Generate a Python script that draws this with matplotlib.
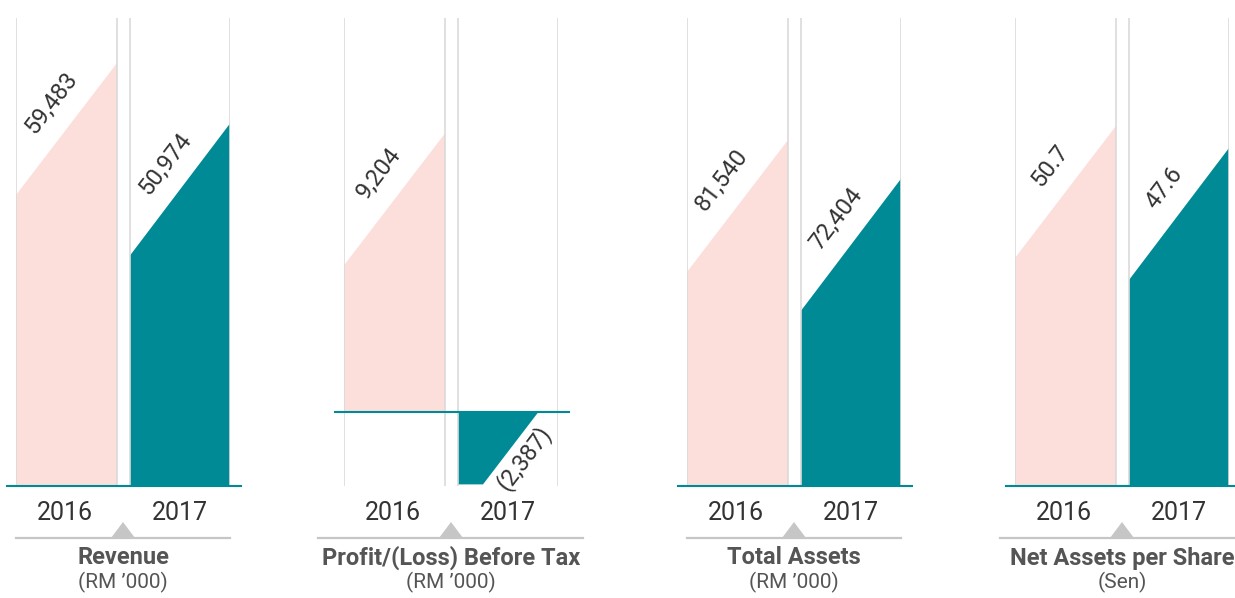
import numpy as np
import matplotlib.pyplot as plt
from matplotlib.patches import Polygon

# data
years = ['2016', '2017']
titles = ['Revenue', 'Profit/(Loss) Before Tax', 'Total Assets', 'Net Assets per Share']
units = ['(RM \u2019000)', '(RM \u2019000)', '(RM \u2019000)', '(Sen)']
revenue = [59483, 50974]
profit_before_tax = [9204, -2387]
total_assets = [81540, 72404]
net_assets_per_share = [50.7, 47.6]
series = [revenue, profit_before_tax, total_assets, net_assets_per_share]

PINK = '#fcdedb'
TEAL = '#008a96'
GRID = '#dadada'
GREY = '#c6c6c6'
TXT = '#333333'
TTL = '#555555'

W, H = 1235, 598
fig = plt.figure(figsize=(W / 100, H / 100), dpi=100)
plt.rcParams['font.family'] = ['Roboto', 'DejaVu Sans']


def fx(x):
    return x / W


def fy(y):
    return 1 - y / H


def fmt(v):
    if isinstance(v, float):
        return f'{v:.1f}'
    if v < 0:
        return f'({abs(v):,})'
    return f'{v:,}'


# layout (pixels)
panel_left = [16, 344, 687, 1015]
ylims = [(0, 65812), (-2440, 13013), (0, 110290), (0, 65.9)]
line_span = [(16, 230), (318, 583), (687, 901), (1000, 1235)]
top_px, base_px = 18, 486
ax_h = base_px - top_px
bars = [(0, 101), (114, 214)]
drop_px = 132
angle = np.degrees(np.arctan(drop_px / 101))

for k in range(4):
    left = panel_left[k]
    ax = fig.add_axes([fx(left), fy(base_px), fx(214), ax_h / H])
    ylo, yhi = ylims[k]
    ax.set_xlim(0, 214)
    ax.set_ylim(ylo, yhi)
    ax.axis('off')
    drop = drop_px * (yhi - ylo) / ax_h

    for i, v in enumerate(series[k]):
        x0, x1 = bars[i]
        col = PINK if i == 0 else TEAL
        if v >= 0:
            pts = [(x0, 0), (x1, 0), (x1, v), (x0, max(v - drop, 0))]
            ax.add_patch(Polygon(pts, closed=True, facecolor=col, edgecolor='none', zorder=1))
            ax.annotate(fmt(v), xy=(x0, v - drop), xytext=(35, 92), textcoords='offset pixels',
                        rotation=angle, rotation_mode='anchor', ha='center', va='center',
                        fontsize=17, fontweight='normal', color=TXT)
        else:
            xb = x0 + 25
            dx = abs(v) / drop * 101
            pts = [(x0, 0), (xb + dx, 0), (xb, v), (x0, v)]
            ax.add_patch(Polygon(pts, closed=True, facecolor=col, edgecolor='none', zorder=1))
            ax.annotate(fmt(v), xy=(xb + dx / 2, v / 2), xytext=(13, -10), textcoords='offset pixels',
                        rotation=angle, rotation_mode='anchor', ha='center', va='center',
                        fontsize=17, fontweight='normal', color=TXT)

    ax.vlines([0, 101, 114, 214], ylo, yhi, color=GRID, lw=1.2, zorder=3)
    ax.plot([-9, 225], [0, 0], color=TEAL, lw=1.5, zorder=4, clip_on=False)

    cx = left + 107
    fig.text(fx(left + 49), fy(513), years[0], ha='center', va='center',
             fontsize=18, fontweight='normal', color=TXT)
    fig.text(fx(left + 164), fy(513), years[1], ha='center', va='center',
             fontsize=18, fontweight='normal', color=TXT)

    l0, l1 = line_span[k]
    fig.add_artist(plt.Line2D([fx(l0), fx(l1)], [fy(538), fy(538)], color=GREY, lw=1.6,
                              transform=fig.transFigure))
    tri = Polygon([(fx(cx - 12), fy(538)), (fx(cx + 12), fy(538)), (fx(cx), fy(522))],
                  closed=True, facecolor=GREY, edgecolor='none', transform=fig.transFigure)
    fig.add_artist(tri)

    fig.text(fx(cx), fy(558), titles[k], ha='center', va='center',
             fontsize=17, fontweight='bold', color=TTL)
    fig.text(fx(cx), fy(582), units[k], ha='center', va='center',
             fontsize=15, fontweight='normal', color=TTL)

fig.savefig('out.png', dpi=100)
